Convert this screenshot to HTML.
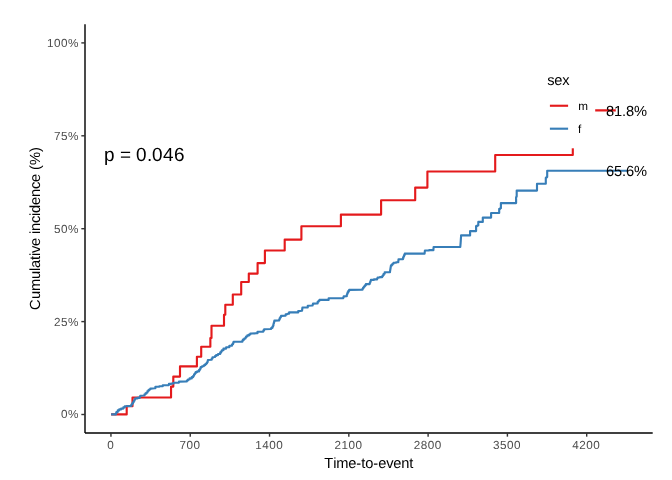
<!DOCTYPE html>
<html><head><meta charset="utf-8"><style>
html,body{margin:0;padding:0;background:#fff;width:672px;height:480px;overflow:hidden}
svg{display:block;font-family:"Liberation Sans",sans-serif;will-change:transform}
</style></head><body>
<svg width="672" height="480" viewBox="0 0 672 480">
<rect width="672" height="480" fill="#fff"/>
<polyline points="111.10,414.40 126.70,414.40 126.70,406.30 132.50,406.30 132.50,397.50 171.05,397.50 171.05,386.60 173.30,386.60 173.30,376.60 180.00,376.60 180.00,366.40 196.90,366.40 196.90,356.70 201.20,356.70 201.20,346.75 210.35,346.75 210.35,338.00 211.50,338.00 211.50,325.80 224.00,325.80 224.00,314.80 225.30,314.80 225.30,304.70 232.80,304.70 232.80,294.50 241.20,294.50 241.20,282.00 248.80,282.00 248.80,273.60 257.60,273.60 257.60,263.10 264.90,263.10 264.90,250.50 284.70,250.50 284.70,239.60 301.40,239.60 301.40,226.30 340.90,226.30 340.90,214.60 381.10,214.60 381.10,200.20 415.20,200.20 415.20,187.60 427.40,187.60 427.40,171.50 495.20,171.50 495.20,155.00 572.80,155.00 572.80,110.40 615.80,110.40" fill="none" stroke="#E41A1C" stroke-width="2.13" stroke-linejoin="round" stroke-linecap="butt"/>
<polyline points="111.10,414.40 115.60,414.40 115.88,414.40 115.88,413.20 116.42,413.20 116.42,412.00 116.70,412.00 117.75,412.00 117.75,410.40 118.80,410.40 119.20,410.40 119.20,409.40 119.60,409.40 121.10,409.40 121.10,408.60 122.60,408.60 123.32,408.60 123.32,407.40 124.78,407.40 124.78,406.20 125.50,406.20 130.90,405.90 131.33,405.90 131.33,404.60 132.20,404.60 132.20,403.30 133.07,403.30 133.07,402.00 133.50,402.00 133.83,402.00 133.83,400.80 134.50,400.80 134.50,399.60 135.17,399.60 135.17,398.40 135.50,398.40 137.50,398.40 137.50,397.90 139.50,397.90 139.75,397.90 139.75,396.85 140.25,396.85 140.25,395.80 140.50,395.80 144.00,395.50 144.50,395.50 144.50,394.30 145.00,394.30 145.50,394.30 145.50,393.40 146.50,393.40 146.50,392.50 147.00,392.50 147.50,392.50 147.50,391.00 148.00,391.00 148.50,391.00 148.50,390.10 149.50,390.10 149.50,389.20 150.00,389.20 150.40,389.20 150.40,388.60 150.80,388.60 154.50,388.30 155.40,388.30 155.40,386.80 156.30,386.80 159.30,386.80 159.30,386.30 162.30,386.30 162.75,386.30 162.75,385.30 163.20,385.30 168.20,385.10 168.90,385.10 168.90,383.90 169.60,383.90 171.20,383.90 171.20,383.50 172.80,383.50 173.70,383.50 173.70,382.70 174.60,382.70 178.30,382.60 179.00,382.60 179.00,381.60 179.70,381.60 186.30,381.40 186.85,381.40 186.85,380.45 187.95,380.45 187.95,379.50 188.50,379.50 189.60,379.50 189.60,378.40 190.70,378.40 191.75,378.40 191.75,377.10 192.80,377.10 193.23,377.10 193.23,375.70 194.07,375.70 194.07,374.30 194.50,374.30 194.90,374.30 194.90,373.20 195.70,373.20 195.70,372.10 196.10,372.10 197.20,372.10 197.20,371.40 198.30,371.40 199.10,371.40 199.10,369.80 199.90,369.80 200.18,369.80 200.18,368.40 200.72,368.40 200.72,367.00 201.00,367.00 202.05,367.00 202.05,366.30 203.10,366.30 203.78,366.30 203.78,365.30 205.12,365.30 205.12,364.30 205.80,364.30 206.23,364.30 206.23,363.25 207.07,363.25 207.07,362.20 207.50,362.20 207.62,362.20 207.62,361.10 207.88,361.10 207.88,360.00 208.00,360.00 211.30,359.80 211.70,359.80 211.70,358.55 212.50,358.55 212.50,357.30 212.90,357.30 214.50,357.00 215.05,357.00 215.05,356.05 216.15,356.05 216.15,355.10 216.70,355.10 218.05,355.10 218.05,354.00 219.40,354.00 220.20,354.00 220.20,352.40 221.00,352.40 221.28,352.40 221.28,351.35 221.82,351.35 221.82,350.30 222.10,350.30 223.45,350.30 223.45,348.60 224.80,348.60 226.15,348.60 226.15,347.30 227.50,347.30 229.35,347.30 229.35,345.80 231.20,345.80 232.00,345.80 232.00,344.30 232.80,344.30 233.05,344.30 233.05,343.00 233.55,343.00 233.55,341.70 233.80,341.70 242.10,341.70 242.38,341.70 242.38,340.65 242.92,340.65 242.92,339.60 243.20,339.60 244.25,339.60 244.25,338.50 245.30,338.50 245.55,338.50 245.55,337.50 246.05,337.50 246.05,336.50 246.30,336.50 247.35,336.50 247.35,335.40 248.40,335.40 249.05,335.40 249.05,334.45 250.35,334.45 250.35,333.50 251.00,333.50 256.70,333.30 257.50,333.30 257.50,331.80 258.30,331.80 263.00,331.60 263.38,331.60 263.38,330.40 264.12,330.40 264.12,329.20 264.50,329.20 270.50,329.00 271.15,329.00 271.15,328.00 271.80,328.00 272.40,328.00 272.40,326.60 273.00,326.60 273.18,326.60 273.18,325.15 273.52,325.15 273.52,323.70 273.70,323.70 273.83,323.70 273.83,322.67 274.10,322.67 274.10,321.63 274.37,321.63 274.37,320.60 274.50,320.60 279.00,320.40 279.25,320.40 279.25,319.20 279.75,319.20 279.75,318.00 280.00,318.00 280.35,318.00 280.35,316.95 281.05,316.95 281.05,315.90 281.40,315.90 285.20,315.60 285.70,315.60 285.70,314.20 286.20,314.20 287.40,314.20 287.40,313.70 288.60,313.70 289.10,313.70 289.10,312.40 289.60,312.40 297.70,312.40 298.20,312.40 298.20,311.10 298.70,311.10 302.00,310.80 302.08,310.80 302.08,309.70 302.25,309.70 302.25,308.60 302.42,308.60 302.42,307.50 302.50,307.50 307.30,307.50 307.75,307.50 307.75,305.80 308.20,305.80 312.50,305.50 312.68,305.50 312.68,304.55 313.02,304.55 313.02,303.60 313.20,303.60 317.20,303.40 317.65,303.40 317.65,301.70 318.10,301.70 318.55,301.70 318.55,300.80 319.45,300.80 319.45,299.90 319.90,299.90 328.20,299.90 328.65,299.90 328.65,298.20 329.10,298.20 343.10,298.20 343.30,298.20 343.30,297.30 343.70,297.30 343.70,296.40 343.90,296.40 346.60,296.20 346.80,296.20 346.80,294.80 347.20,294.80 347.20,293.40 347.40,293.40 347.72,293.40 347.72,292.15 348.38,292.15 348.38,290.90 348.70,290.90 349.15,290.90 349.15,289.90 349.60,289.90 362.25,289.80 362.51,289.80 362.51,288.77 363.04,288.77 363.04,287.75 363.30,287.75 363.82,287.75 363.82,286.53 364.85,286.53 364.85,285.32 365.88,285.32 365.88,284.10 366.40,284.10 369.50,284.10 369.70,284.10 369.70,283.05 370.10,283.05 370.10,282.00 370.50,282.00 370.50,280.95 370.90,280.95 370.90,279.90 371.10,279.90 373.95,279.90 373.95,279.40 376.80,279.40 377.07,279.40 377.07,278.45 377.62,278.45 377.62,277.50 377.90,277.50 379.95,277.50 379.95,277.10 382.00,277.10 382.27,277.10 382.27,276.18 382.83,276.18 382.83,275.25 383.10,275.25 383.62,275.25 383.62,273.77 384.68,273.77 384.68,272.30 385.20,272.30 389.90,272.30 390.00,272.30 390.00,271.02 390.20,271.02 390.20,269.74 390.40,269.74 390.40,268.46 390.60,268.46 390.60,267.18 390.80,267.18 390.80,265.90 390.90,265.90 391.42,265.90 391.42,264.85 392.45,264.85 392.45,263.80 393.48,263.80 393.48,262.75 394.00,262.75 396.10,262.75 396.10,262.20 398.20,262.20 398.30,262.20 398.30,260.75 398.50,260.75 398.50,259.30 398.60,259.30 402.70,259.30 402.95,259.30 402.95,257.90 403.45,257.90 403.45,256.50 403.70,256.50 404.05,256.50 404.05,255.05 404.75,255.05 404.75,253.60 405.10,253.60 424.60,253.60 424.90,250.50 429.15,250.50 429.15,250.10 433.40,250.10 433.60,247.00 460.30,246.90 460.60,243.20 460.64,243.20 460.64,241.90 460.73,241.90 460.73,240.60 460.81,240.60 460.81,239.30 460.89,239.30 460.89,238.00 460.98,238.00 460.98,236.70 461.06,236.70 461.06,235.40 461.10,235.40 470.10,235.40 470.10,231.10 476.10,231.10 476.10,226.10 477.20,226.10 477.20,225.50 478.30,225.50 478.30,221.90 482.80,221.90 482.80,217.60 491.10,217.60 491.10,213.00 499.20,213.00 499.20,208.90 500.05,208.90 500.05,208.30 500.90,208.30 500.90,203.10 516.10,203.10 516.10,197.20 516.40,197.20 516.40,196.60 516.70,196.60 516.70,190.60 537.00,190.60 537.00,183.80 545.80,183.80 545.80,177.80 546.50,177.80 546.50,177.10 547.20,177.10 547.20,170.80 627.50,170.80" fill="none" stroke="#377EB8" stroke-width="2.13" stroke-linejoin="round" stroke-linecap="butt"/>
<text x="605.90 613.90 621.90 625.90 633.90" y="116.00" font-size="14.67px" fill="#000" transform="matrix(1 0 0.0009 1 -0.1044 0)">81.8%</text>
<text x="605.90 613.90 621.90 625.90 633.90" y="176.00" font-size="14.67px" fill="#000" transform="matrix(1 0 0.0009 1 -0.1584 0)">65.6%</text>
<text x="103.90 114.90 119.90 130.90 135.90 146.90 151.90 162.90 173.90" y="161.00" font-size="18.97px" fill="#000" transform="matrix(1 0 0.0009 1 -0.1449 0)">p = 0.046</text>
<rect x="539.5" y="64" width="55.7" height="84.3" fill="#fff"/>
<text x="547.20 554.20 562.20" y="85.00" font-size="14.67px" fill="#000" transform="matrix(1 0 0.0009 1 -0.0765 0)">sex</text>
<line x1="549.9" y1="105.75" x2="568.1" y2="105.75" stroke="#E41A1C" stroke-width="2.13"/>
<line x1="549.9" y1="128.7" x2="568.1" y2="128.7" stroke="#377EB8" stroke-width="2.13"/>
<text x="578.20" y="110.00" font-size="11.73px" fill="#000" transform="matrix(1 0 0.0009 1 -0.0990 0)">m</text>
<text x="578.00" y="133.00" font-size="11.73px" fill="#000" transform="matrix(1 0 0.0009 1 -0.1197 0)">f</text>
<line x1="85" y1="24.3" x2="85" y2="433.05" stroke="#000" stroke-width="1.42" stroke-linecap="butt"/>
<line x1="85" y1="433.05" x2="652.7" y2="433.05" stroke="#000" stroke-width="1.42" stroke-linecap="butt"/>
<line x1="110.95" y1="433" x2="110.95" y2="436.67" stroke="#333" stroke-width="1.42"/>
<text x="107.15" y="449.00" font-size="11.73px" fill="#4D4D4D" transform="matrix(1 0 0.0009 1 -0.4041 0)">0</text>
<line x1="190.24" y1="433" x2="190.24" y2="436.67" stroke="#333" stroke-width="1.42"/>
<text x="179.44 186.44 193.44" y="449.00" font-size="11.73px" fill="#4D4D4D" transform="matrix(1 0 0.0009 1 -0.4041 0)">700</text>
<line x1="269.53" y1="433" x2="269.53" y2="436.67" stroke="#333" stroke-width="1.42"/>
<text x="255.23 262.23 269.23 276.23" y="449.00" font-size="11.73px" fill="#4D4D4D" transform="matrix(1 0 0.0009 1 -0.4041 0)">1400</text>
<line x1="348.82" y1="433" x2="348.82" y2="436.67" stroke="#333" stroke-width="1.42"/>
<text x="334.52 341.52 348.52 355.52" y="449.00" font-size="11.73px" fill="#4D4D4D" transform="matrix(1 0 0.0009 1 -0.4041 0)">2100</text>
<line x1="428.11" y1="433" x2="428.11" y2="436.67" stroke="#333" stroke-width="1.42"/>
<text x="413.81 420.81 427.81 434.81" y="449.00" font-size="11.73px" fill="#4D4D4D" transform="matrix(1 0 0.0009 1 -0.4041 0)">2800</text>
<line x1="507.40" y1="433" x2="507.40" y2="436.67" stroke="#333" stroke-width="1.42"/>
<text x="493.10 500.10 507.10 514.10" y="449.00" font-size="11.73px" fill="#4D4D4D" transform="matrix(1 0 0.0009 1 -0.4041 0)">3500</text>
<line x1="586.69" y1="433" x2="586.69" y2="436.67" stroke="#333" stroke-width="1.42"/>
<text x="572.39 579.39 586.39 593.39" y="449.00" font-size="11.73px" fill="#4D4D4D" transform="matrix(1 0 0.0009 1 -0.4041 0)">4200</text>
<line x1="81.33" y1="414.50" x2="85" y2="414.50" stroke="#333" stroke-width="1.42"/>
<text x="61.10 68.10" y="418.00" font-size="11.73px" fill="#4D4D4D" transform="matrix(1 0 0.0009 1 -0.3762 0)">0%</text>
<line x1="81.33" y1="321.60" x2="85" y2="321.60" stroke="#333" stroke-width="1.42"/>
<text x="54.10 61.10 68.10" y="326.00" font-size="11.73px" fill="#4D4D4D" transform="matrix(1 0 0.0009 1 -0.2934 0)">25%</text>
<line x1="81.33" y1="228.70" x2="85" y2="228.70" stroke="#333" stroke-width="1.42"/>
<text x="54.10 61.10 68.10" y="233.00" font-size="11.73px" fill="#4D4D4D" transform="matrix(1 0 0.0009 1 -0.2097 0)">50%</text>
<line x1="81.33" y1="135.80" x2="85" y2="135.80" stroke="#333" stroke-width="1.42"/>
<text x="54.10 61.10 68.10" y="140.00" font-size="11.73px" fill="#4D4D4D" transform="matrix(1 0 0.0009 1 -0.1260 0)">75%</text>
<line x1="81.33" y1="42.90" x2="85" y2="42.90" stroke="#333" stroke-width="1.42"/>
<text x="47.10 54.10 61.10 68.10" y="47.00" font-size="11.73px" fill="#4D4D4D" transform="matrix(1 0 0.0009 1 -0.0423 0)">100%</text>
<text x="324.35 333.35 336.35 348.35 356.35 361.35 365.35 373.35 378.35 386.35 393.35 401.35 409.35" y="468.00" font-size="14.67px" fill="#000" transform="matrix(1 0 0.0009 1 -0.4212 0)">Time-to-event</text>
<text x="0.00 11.00 19.00 31.00 39.00 42.00 50.00 54.00 57.00 64.00 72.00 76.00 79.00 87.00 94.00 97.00 105.00 113.00 121.00 128.00 136.00 140.00 145.00 158.00" y="0.00" font-size="14.67px" fill="#000" transform="translate(39.7,309.9) rotate(-90) skewX(0.05)">Cumulative incidence (%)</text>
</svg>
</body></html>
